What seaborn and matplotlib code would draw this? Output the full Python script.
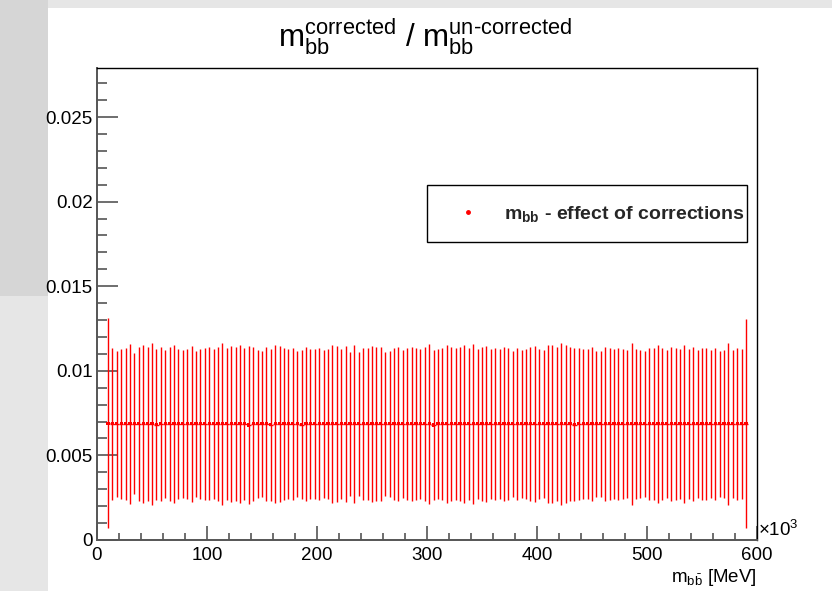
import numpy as np
import pandas as pd
import matplotlib
matplotlib.use("Agg")
import matplotlib.pyplot as plt
import seaborn as sns
from matplotlib.lines import Line2D
from matplotlib.patches import Rectangle
from matplotlib.ticker import MultipleLocator

# ---------------- data ----------------
bin_half_width = 2.0
mbb_centers = np.arange(10, 594, 4)  # GeV (x10^3 MeV), bin centres

ratio_values = [
    0.00690, 0.00687, 0.00687, 0.00687, 0.00687, 0.00687, 0.00687, 0.00687, 0.00687, 0.00687,
    0.00687, 0.00682, 0.00687, 0.00687, 0.00687, 0.00687, 0.00687, 0.00687, 0.00687, 0.00687,
    0.00687, 0.00687, 0.00687, 0.00687, 0.00687, 0.00687, 0.00687, 0.00687, 0.00687, 0.00687,
    0.00687, 0.00687, 0.00680, 0.00687, 0.00687, 0.00687, 0.00687, 0.00681, 0.00687, 0.00687,
    0.00687, 0.00687, 0.00687, 0.00687, 0.00682, 0.00687, 0.00687, 0.00687, 0.00687, 0.00687,
    0.00687, 0.00687, 0.00687, 0.00687, 0.00687, 0.00687, 0.00687, 0.00687, 0.00687, 0.00687,
    0.00687, 0.00687, 0.00687, 0.00687, 0.00687, 0.00687, 0.00687, 0.00687, 0.00687, 0.00687,
    0.00687, 0.00687, 0.00687, 0.00687, 0.00680, 0.00687, 0.00687, 0.00687, 0.00687, 0.00687,
    0.00687, 0.00687, 0.00687, 0.00687, 0.00687, 0.00687, 0.00687, 0.00687, 0.00687, 0.00687,
    0.00687, 0.00687, 0.00687, 0.00687, 0.00687, 0.00687, 0.00687, 0.00687, 0.00687, 0.00687,
    0.00687, 0.00687, 0.00687, 0.00687, 0.00687, 0.00687, 0.00682, 0.00687, 0.00687, 0.00687,
    0.00687, 0.00687, 0.00687, 0.00687, 0.00687, 0.00687, 0.00687, 0.00687, 0.00687, 0.00687,
    0.00687, 0.00687, 0.00687, 0.00687, 0.00687, 0.00687, 0.00687, 0.00687, 0.00687, 0.00687,
    0.00687, 0.00687, 0.00687, 0.00687, 0.00687, 0.00687, 0.00687, 0.00687, 0.00687, 0.00687,
    0.00687, 0.00687, 0.00687, 0.00687, 0.00687, 0.00688,
]

ratio_errors = [
    0.00620,
    0.00450, 0.00432, 0.00442, 0.00448, 0.00474,
    0.00418, 0.00454, 0.00466, 0.00454, 0.00480,
    0.00448, 0.00454, 0.00436, 0.00454, 0.00468,
    0.00442, 0.00438, 0.00442, 0.00460, 0.00430,
    0.00442, 0.00448, 0.00452, 0.00442, 0.00454,
    0.00480, 0.00448, 0.00460, 0.00454, 0.00466,
    0.00450, 0.00468, 0.00454, 0.00436, 0.00430,
    0.00454, 0.00448, 0.00466, 0.00460, 0.00448,
    0.00442, 0.00448, 0.00430, 0.00442, 0.00454,
    0.00442, 0.00442, 0.00448,
    0.00436, 0.00442, 0.00466, 0.00460, 0.00442,
    0.00460, 0.00424, 0.00466, 0.00424, 0.00448,
    0.00448, 0.00460, 0.00454, 0.00454, 0.00424,
    0.00430, 0.00448, 0.00454, 0.00436, 0.00448,
    0.00454, 0.00448, 0.00442, 0.00454, 0.00474,
    0.00442, 0.00442, 0.00448, 0.00466, 0.00454,
    0.00448, 0.00454, 0.00466, 0.00448, 0.00474,
    0.00442, 0.00454, 0.00460, 0.00442, 0.00448,
    0.00442, 0.00454, 0.00448, 0.00430, 0.00448,
    0.00436, 0.00442, 0.00454, 0.00460,
    0.00442, 0.00436, 0.00466, 0.00466, 0.00454,
    0.00480, 0.00466, 0.00454, 0.00454, 0.00448,
    0.00442, 0.00442, 0.00454, 0.00430, 0.00430,
    0.00454, 0.00448, 0.00442, 0.00448, 0.00442,
    0.00436, 0.00480, 0.00442, 0.00436, 0.00430,
    0.00448, 0.00448, 0.00466, 0.00448, 0.00436,
    0.00454, 0.00448, 0.00442, 0.00466, 0.00442,
    0.00454, 0.00436, 0.00448, 0.00448, 0.00436,
    0.00448, 0.00430, 0.00436, 0.00480, 0.00436,
    0.00448, 0.00442,
    0.00620,
]

y_ticks = [0, 0.005, 0.01, 0.015, 0.02, 0.025]
y_tick_labels = ["0", "0.005", "0.01", "0.015", "0.02", "0.025"]
x_ticks = [0, 100, 200, 300, 400, 500, 600]
x_tick_labels = ["0", "100", "200", "300", "400", "500", "600"]

title_text = r"$\mathregular{m^{corrected}_{bb}}$ / $\mathregular{m^{un\text{-}corrected}_{bb}}$"
legend_label = r"$\mathbf{m_{bb}}$ - effect of corrections"
x_label = r"$\mathregular{m_{b\bar{b}}}$ [MeV]"

df = pd.DataFrame({"mbb": mbb_centers, "ratio": ratio_values, "err": ratio_errors})

# ---------------- style ----------------
sns.set_theme(style="ticks")
plt.rcParams["font.family"] = ["Liberation Sans", "DejaVu Sans"]
plt.rcParams["mathtext.fontset"] = "custom"
plt.rcParams["mathtext.rm"] = "Liberation Sans"
plt.rcParams["mathtext.it"] = "Liberation Sans"
plt.rcParams["mathtext.bf"] = "Liberation Sans:bold"

W, H = 832, 591
fig = plt.figure(figsize=(W / 100, H / 100), dpi=100, facecolor="#e6e6e6")
# slide-like grey background with white canvas
fig.patches.append(Rectangle((0, 0.50), 48 / W, 0.50, transform=fig.transFigure,
                             facecolor="#d6d6d6", edgecolor="none", zorder=-2))
fig.patches.append(Rectangle((48 / W, 0), 1 - 48 / W, 1 - 8 / H, transform=fig.transFigure,
                             facecolor="white", edgecolor="none", zorder=-1))

ax = fig.add_axes([97 / W, 1 - 540 / H, (757 - 97) / W, (540 - 68) / H])
ax.set_facecolor("white")

ax.errorbar(df["mbb"], df["ratio"], yerr=df["err"], xerr=bin_half_width,
            fmt="none", ecolor="red", elinewidth=1.0, capsize=0, zorder=2)
sns.scatterplot(data=df, x="mbb", y="ratio", marker="s", s=5, color="red",
                edgecolor="none", linewidth=0, legend=False, ax=ax, zorder=3)

ax.set_xlim(0, 600)
ax.set_ylim(0, 0.0279)
ax.set_yticks(y_ticks)
ax.set_yticklabels(y_tick_labels)
ax.set_xticks(x_ticks)
ax.set_xticklabels(x_tick_labels)
ax.yaxis.set_minor_locator(MultipleLocator(0.001))
ax.xaxis.set_minor_locator(MultipleLocator(20))

ax.tick_params(axis="y", which="major", direction="in", length=15, width=1.2,
               color="#555555", labelsize=13.5, pad=3, labelcolor="black")
ax.tick_params(axis="y", which="minor", direction="in", length=7.5, width=1.2,
               color="#555555")
ax.tick_params(axis="x", which="major", direction="in", length=10, width=1.2,
               color="#555555", labelsize=13.5, pad=5, labelcolor="black")
ax.tick_params(axis="x", which="minor", direction="in", length=5, width=1.2,
               color="#555555")
ax.tick_params(top=False, right=False, which="both")

for side in ["top", "right"]:
    ax.spines[side].set_color("black")
    ax.spines[side].set_linewidth(1.0)
for side in ["left", "bottom"]:
    ax.spines[side].set_color("#555555")
    ax.spines[side].set_linewidth(1.4)

ax.set_xlabel(x_label, loc="right", fontsize=13.5, labelpad=2, color="black")
ax.set_ylabel("")

ax.text(1.002, 0.0, "×10$^{3}$", transform=ax.transAxes, ha="left", va="bottom",
        fontsize=13.5, color="black")

fig.text(425 / W, 1 - 37 / H, title_text, ha="center", va="center",
         fontsize=22.5, color="black")

handle = Line2D([], [], marker="o", linestyle="none", color="red", markersize=2.5)
leg = ax.legend([handle], [legend_label], loc="center",
                bbox_to_anchor=(0.5, 0.629, 0.485, 0.125), mode="expand",
                borderaxespad=0.0,
                frameon=True, fancybox=False, edgecolor="black", framealpha=1,
                borderpad=0.95, handlelength=2.3, handletextpad=0.72,
                prop={"weight": "bold", "size": 14})
leg.get_frame().set_linewidth(1.0)

fig.savefig("out.png", dpi=100, facecolor=fig.get_facecolor())
